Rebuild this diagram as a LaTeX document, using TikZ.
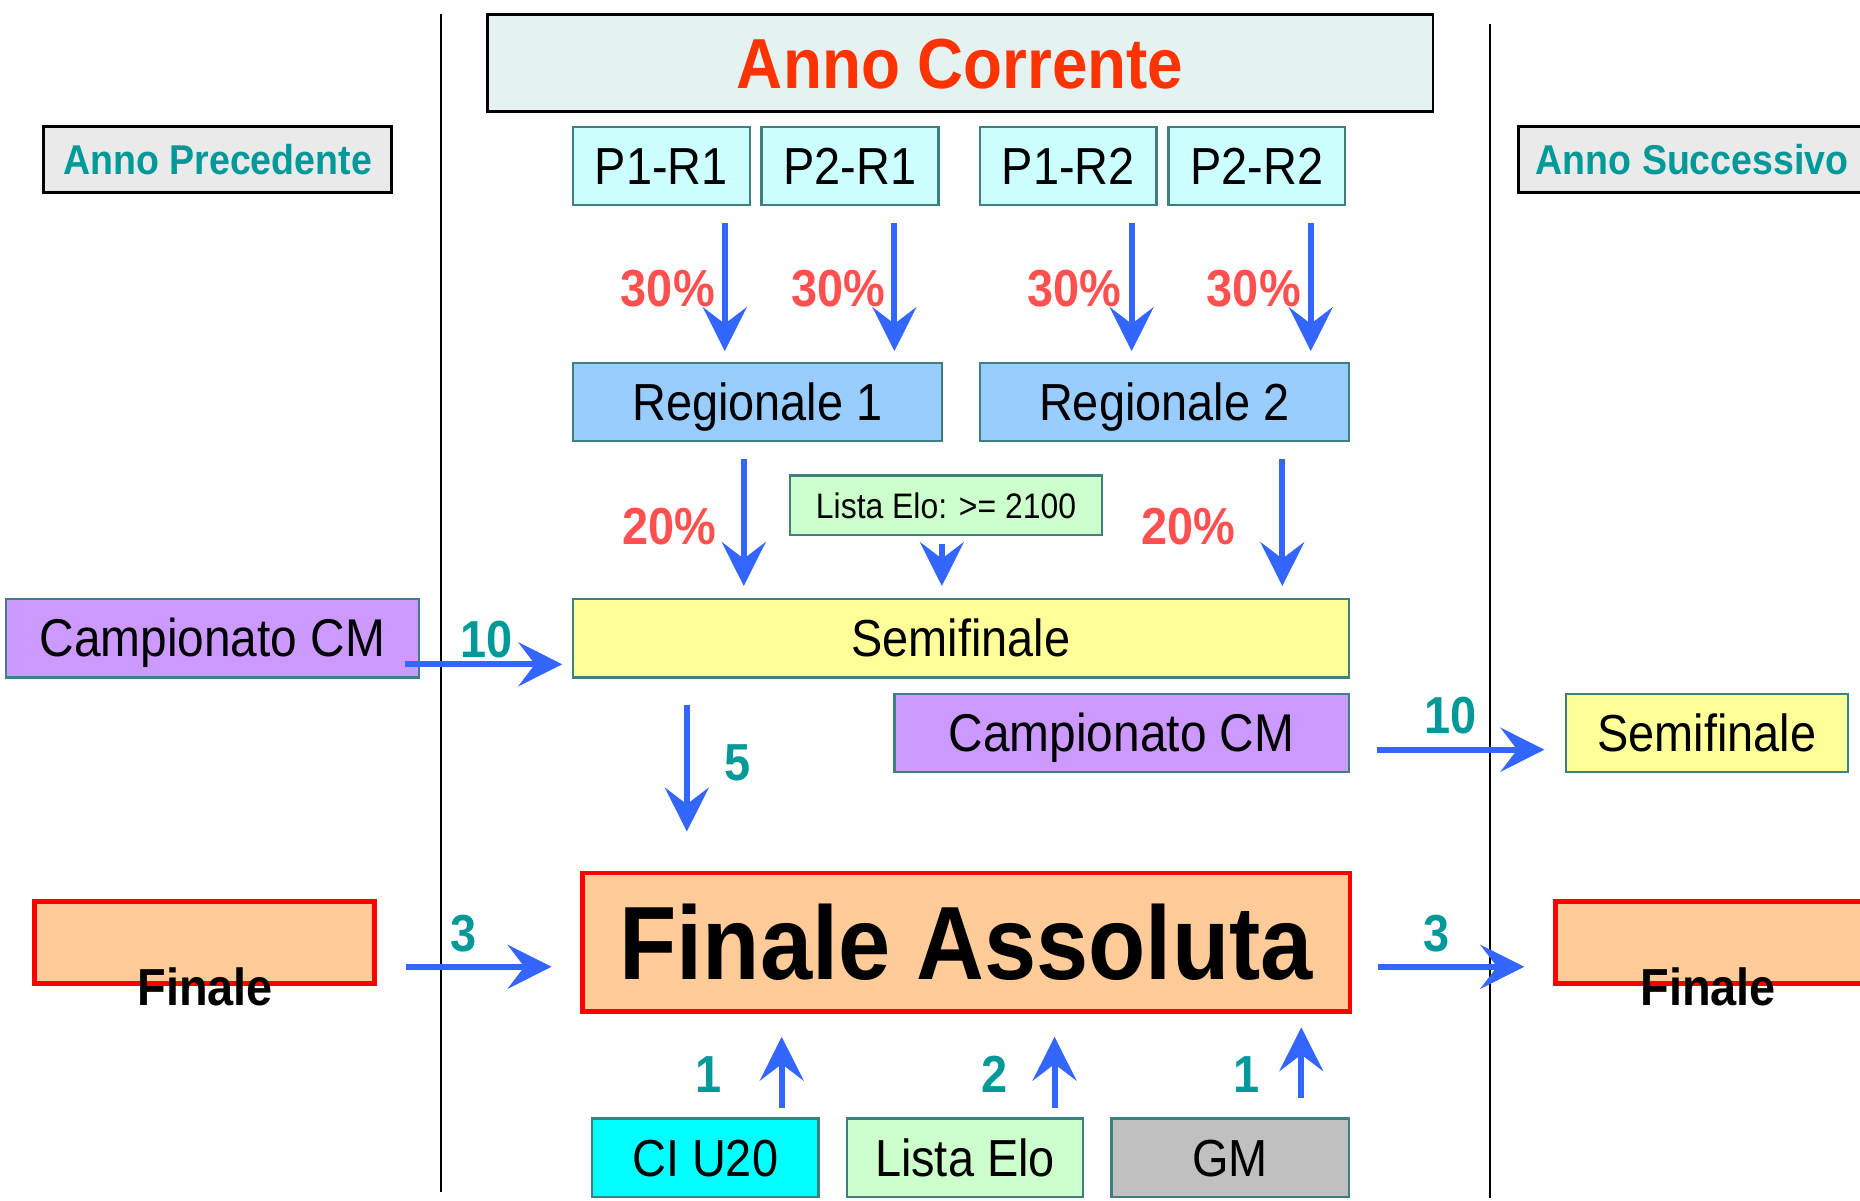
\documentclass[tikz,border=0pt]{standalone}
\usepackage{fontspec}
\setmainfont{Liberation Sans}[FakeStretch=0.9]
\usetikzlibrary{arrows.meta}

\definecolor{flowblue}{HTML}{3366FF}
\definecolor{pctred}{HTML}{FF5050}
\definecolor{tealtext}{HTML}{009999}
\definecolor{titlered}{HTML}{FF3300}
\definecolor{boxline}{HTML}{3F7F7F}
\definecolor{headfill}{HTML}{E5F2F2}
\definecolor{yearfill}{HTML}{EAEAEA}
\definecolor{pfill}{HTML}{CCFFFF}
\definecolor{regfill}{HTML}{99CCFF}
\definecolor{elofill}{HTML}{CCFFCC}
\definecolor{semifill}{HTML}{FFFF99}
\definecolor{campfill}{HTML}{CC99FF}
\definecolor{finfill}{HTML}{FFCC99}
\definecolor{cifill}{HTML}{00FFFF}
\definecolor{gmfill}{HTML}{C0C0C0}

\tikzset{
  box/.style={draw=boxline, line width=0.4mm, inner sep=0pt, minimum height=13.2mm,
    font=\fontsize{25}{30}\selectfont, text height=6.3mm, text depth=0pt},
  yearbox/.style={draw=black, line width=0.5mm, fill=yearfill, inner sep=0pt,
    minimum width=58.6mm, minimum height=11mm, text=tealtext,
    font=\fontsize{20}{24}\selectfont\bfseries, text height=5mm, text depth=0pt},
  finbox/.style={draw=red, line width=0.8mm, fill=finfill, inner sep=0pt},
  finlabel/.style={font=\fontsize{25}{30}\selectfont\bfseries, text height=6.3mm, text depth=0pt, inner sep=0pt},
  flow/.style={color=flowblue, line width=1mm, -{Stealth[length=7.4mm, width=7.4mm, inset=2.8mm]}},
  pct/.style={text=pctred, font=\fontsize{25}{30}\selectfont\bfseries},
  num/.style={text=tealtext, font=\fontsize{25}{30}\selectfont\bfseries},
  divider/.style={line width=0.4mm}
}

\begin{document}
\begin{tikzpicture}[x=0.2mm, y=-0.2mm]
    \useasboundingbox (0,0) rectangle (1568,1012);

    % Dividers between the years
    \draw[divider] (372,12) -- (372,1005);
    \draw[divider] (1256,20) -- (1256,1010);

    % Year headers
    \node[draw, line width=0.5mm, fill=headfill, inner sep=0pt, minimum width=159.4mm, minimum height=16.4mm,
      text=titlered, font=\fontsize{34}{40}\selectfont\bfseries, text height=8.6mm, text depth=0pt]
      (corrente) at (809.5,53) {Anno Corrente};
    \node[yearbox] (precedente) at (183.5,134.5) {Anno Precedente};
    \node[yearbox] (successivo) at (1426.5,134.5) {Anno Successivo};

    % Provincial qualifiers
    \node[box, fill=pfill, minimum width=29.8mm] (p1r1) at (557.5,140) {P1-R1};
    \node[box, fill=pfill, minimum width=29.8mm] (p2r1) at (716.5,140) {P2-R1};
    \node[box, fill=pfill, minimum width=29.8mm] (p1r2) at (900.5,140) {P1-R2};
    \node[box, fill=pfill, minimum width=29.8mm] (p2r2) at (1059.5,140) {P2-R2};

    % Regionals
    \node[box, fill=regfill, minimum width=62.2mm] (reg1) at (638.5,339) {Regionale 1};
    \node[box, fill=regfill, minimum width=62.2mm] (reg2) at (981.5,339) {Regionale 2};
    \node[box, fill=elofill, minimum width=52.6mm, minimum height=10mm,
      font=\fontsize{17}{20}\selectfont, text height=4.3mm] (elo) at (797.5,426) {Lista Elo: >= 2100};

    % Semifinals
    \node[box, fill=semifill, minimum width=130.8mm] (semi) at (810,538) {Semifinale};
    \node[box, fill=campfill, minimum width=69.6mm, font=\fontsize{25.5}{30}\selectfont] (campL) at (179,538) {Campionato CM};
    \node[box, fill=campfill, minimum width=76.6mm, font=\fontsize{25.5}{30}\selectfont] (campR) at (945.5,618) {Campionato CM};
    \node[box, fill=semifill, minimum width=47.6mm] (semiR) at (1439,618) {Semifinale};

    % Finals
    \node[finbox, minimum width=129.4mm, minimum height=23.4mm,
      font=\fontsize{50}{58}\selectfont\bfseries, text height=12.6mm, text depth=0pt]
      (finale) at (814.5,794.5) {Finale Assoluta};
    \node[finbox, minimum width=57.4mm, minimum height=13.8mm] (finL) at (172.5,794.5) {};
    \node[finlabel] (finLtext) at (173,832) {Finale};
    \node[finbox, minimum width=57.4mm, minimum height=13.8mm] (finR) at (1454.5,794.5) {};
    \node[finlabel] (finRtext) at (1440,832) {Finale};

    % Direct admissions
    \node[box, fill=cifill, minimum width=38.2mm] (ciu20) at (594.5,976) {CI U20};
    \node[box, fill=elofill, minimum width=39.8mm] (elobot) at (813.5,976) {Lista Elo};
    \node[box, fill=gmfill, minimum width=40mm] (gm) at (1037,976) {GM};

    % Qualifiers into regionals
    \draw[flow, shorten <=2.8mm, shorten >=1.8mm] (p1r1.south -| 611,0) -- (reg1.north -| 611,0);
    \draw[flow, shorten <=2.8mm, shorten >=1.8mm] (p2r1.south -| 754,0) -- (reg1.north -| 754,0);
    \draw[flow, shorten <=2.8mm, shorten >=1.8mm] (p1r2.south -| 954,0) -- (reg2.north -| 954,0);
    \draw[flow, shorten <=2.8mm, shorten >=1.8mm] (p2r2.south -| 1105,0) -- (reg2.north -| 1105,0);
    \node[pct] (pc1) at (563,243) {30\%};
    \node[pct] (pc2) at (707,243) {30\%};
    \node[pct] (pc3) at (906,243) {30\%};
    \node[pct] (pc4) at (1057,243) {30\%};

    % Regionals into semifinal
    \draw[flow, shorten <=2.8mm, shorten >=2mm] (reg1.south -| 627,0) -- (semi.north -| 627,0);
    \draw[flow, shorten <=2.8mm, shorten >=2mm] (reg2.south -| 1081,0) -- (semi.north -| 1081,0);
    \draw[flow, shorten <=1.4mm, shorten >=2mm] (elo.south -| 794,0) -- (semi.north -| 794,0);
    \node[pct] (pc5) at (564,444) {20\%};
    \node[pct] (pc6) at (1002,444) {20\%};

    % Campionato CM, previous and next year
    \draw[flow, shorten <=-2.6mm, shorten >=1.6mm] (campL.east |- 0,560) -- (semi.west |- 0,560);
    \node[num] (n10a) at (410,539) {10};
    \draw[flow, shorten <=4.6mm, shorten >=3.4mm] (campR.east |- 0,632) -- (semiR.west |- 0,632);
    \node[num] (n10b) at (1223,603) {10};

    % Semifinal into final
    \draw[flow, shorten <=4.4mm, shorten >=6.6mm] (semi.south -| 579,0) -- (finale.north -| 579,0);
    \node[num] (n5) at (622,643) {5};

    % Finals of the other years
    \draw[flow, shorten <=4.8mm, shorten >=4.8mm] (finL.east |- 0,815) -- (finale.west |- 0,815);
    \node[num] (n3a) at (391,787) {3};
    \draw[flow, shorten <=4.4mm, shorten >=4.8mm] (finale.east |- 0,815) -- (finR.west |- 0,815);
    \node[num] (n3b) at (1211,787) {3};

    % Direct admissions into final
    \draw[flow, shorten <=1.6mm, shorten >=3.8mm] (ciu20.north -| 659,0) -- (finale.south -| 659,0);
    \draw[flow, shorten <=1.6mm, shorten >=3.8mm] (elobot.north -| 889,0) -- (finale.south -| 889,0);
    \draw[flow, shorten <=3.2mm, shorten >=2.2mm] (gm.north -| 1097,0) -- (finale.south -| 1097,0);
    \node[num] (n1a) at (597,906) {1};
    \node[num] (n2) at (838,906) {2};
    \node[num] (n1b) at (1051,906) {1};
\end{tikzpicture}
\end{document}
